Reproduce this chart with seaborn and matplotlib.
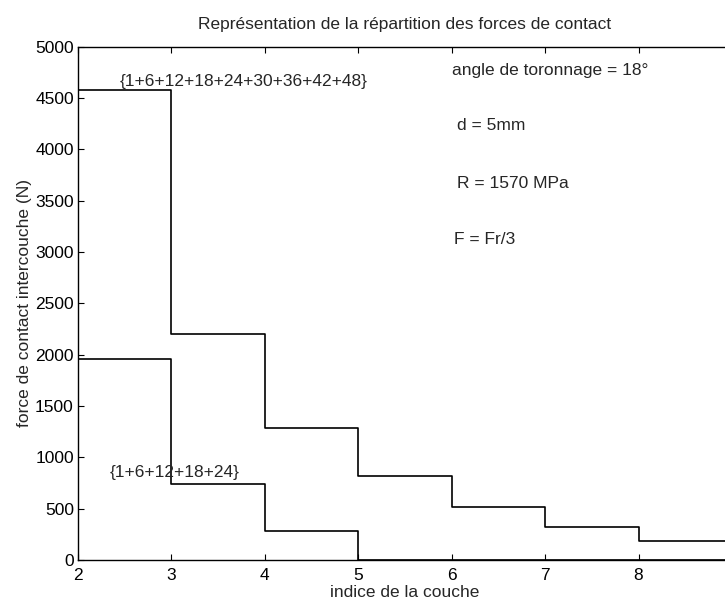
"""Plotting the contact force distribution per layer"""

import pandas as pd
import matplotlib.pyplot as plt
import seaborn as sns

X_SIZE = 7.25
Y_SIZE = 6.03
DPI = 100
LINEWIDTH = 1.2
FONTSIZE = 12.5

# layer index (stairs, last value repeated to close the last step)
LAYERS = [2, 3, 4, 5, 6, 7, 8, 9]
# strand {1+6+12+18+24+30+36+42+48}
FORCE_9_LAYERS = [4580, 2200, 1290, 815, 520, 325, 190, 190]
# strand {1+6+12+18+24}
FORCE_5_LAYERS = [1960, 740, 280, 0, 0, 0, 0, 0]

LABEL_9 = '{1+6+12+18+24+30+36+42+48}'
LABEL_5 = '{1+6+12+18+24}'
PARAMS = ['angle de toronnage = 18°', 'd = 5mm', 'R = 1570 MPa', 'F = Fr/3']


def gen_plot(df: pd.DataFrame, figure_name: str):
    """
        Stairs plot of the inter-layer contact force for two strands
    """
    sns.set_style('ticks')
    plt.rcParams['font.family'] = ['Liberation Sans', 'DejaVu Sans']

    fig = plt.figure(figsize=(X_SIZE, Y_SIZE), dpi=DPI)
    # axes run slightly past the right border, as in the scanned figure
    ax = fig.add_axes([0.1076, 0.0713, 0.902, 0.851])

    # Plot the data ################################################
    sns.lineplot(data=df, x='layer', y='force', units='strand', estimator=None,
                 color='black', linewidth=LINEWIDTH, drawstyle='steps-post',
                 ax=ax, legend=False)

    ax.set_xlim(2, 9)
    ax.set_ylim(0, 5000)
    ax.set_xticks(range(2, 10))
    ax.set_yticks(range(0, 5001, 500))
    ax.tick_params(direction='in', top=True, right=True, length=4,
                   labelsize=FONTSIZE, colors='black', pad=3)
    ax.tick_params(axis='x', pad=6)
    for spine in ax.spines.values():
        spine.set_visible(True)
        spine.set_linewidth(1.0)
        spine.set_color('black')

    ax.set_title('Représentation de la répartition des forces de contact',
                 fontsize=FONTSIZE, pad=13)
    ax.set_xlabel('indice de la couche', fontsize=FONTSIZE, labelpad=1)
    ax.set_ylabel('force de contact intercouche (N)', fontsize=FONTSIZE, labelpad=2)

    # Annotations ################################################
    ax.text(2.45, 4660, LABEL_9, fontsize=FONTSIZE, va='center')
    ax.text(2.34, 850, LABEL_5, fontsize=FONTSIZE, va='center')
    ax.text(6.0, 4766, PARAMS[0], fontsize=FONTSIZE, va='center')
    for label, x, y in zip(PARAMS[1:], [6.06, 6.06, 6.03], [4229, 3672, 3125]):
        ax.text(x, y, label, fontsize=FONTSIZE, va='center')

    # Save the plot ################################################
    fig.savefig(figure_name, dpi=DPI)
    plt.close(fig)


if __name__ == '__main__':
    n = len(LAYERS)
    data = pd.DataFrame({
        'layer': LAYERS * 2,
        'force': FORCE_9_LAYERS + FORCE_5_LAYERS,
        'strand': [LABEL_9] * n + [LABEL_5] * n,
    })
    gen_plot(data, 'out.png')
